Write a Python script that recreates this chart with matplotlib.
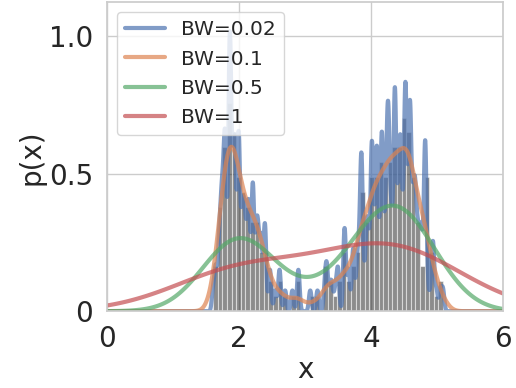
import numpy as np
import matplotlib
matplotlib.use("Agg")
import matplotlib.pyplot as plt
import seaborn as sns

# sample clusters (position, number of samples)
centers = [1.61, 1.65, 1.70, 1.735, 1.765, 1.795, 1.845, 1.865, 1.905, 1.94, 1.995, 2.02,
           2.05, 2.085, 2.125, 2.155, 2.21, 2.26, 2.29, 2.33, 2.36, 2.395, 2.47, 2.55, 2.615,
           2.70, 2.81, 2.90, 3.08, 3.19,
           3.30, 3.33, 3.38, 3.41, 3.46, 3.50, 3.60, 3.66, 3.73, 3.79, 3.82, 3.855,
           3.89, 3.93, 3.96, 4.01, 4.035, 4.06, 4.09, 4.13, 4.165, 4.21, 4.245, 4.27,
           4.31, 4.36, 4.385, 4.41, 4.445, 4.48, 4.52, 4.555, 4.59, 4.63, 4.665, 4.70,
           4.735, 4.77, 4.82, 4.86, 4.91, 4.94, 4.99, 5.05, 5.09]
counts = [1, 2, 3, 4, 4, 7, 3, 11, 5, 7, 8, 1,
          4, 4, 3, 4, 6, 3, 3, 3, 1, 4, 2, 1, 2,
          1, 1, 2, 1, 1,
          1, 2, 1, 1, 1, 2, 4, 2, 3, 2, 2, 7,
          1, 3, 3, 7, 2, 2, 7, 2, 8, 3, 6, 6,
          4, 10, 1, 4, 7, 3, 10, 3, 9, 4, 5, 3,
          3, 3, 8, 1, 1, 3, 1, 1, 1]
bandwidths = [0.02, 0.1, 0.5, 1]
n_bins = 50

samples = np.repeat(np.array(centers), np.array(counts))

sns.set_theme(style="whitegrid")
plt.rcParams['font.family'] = ['DejaVu Sans']
plt.rcParams['path.simplify'] = False

fig = plt.figure(figsize=(5.16, 3.88), dpi=100)
ax = fig.add_axes([0.207, 0.198, 0.768, 0.796])

grid = np.linspace(0, 6, 4000)
palette = sns.color_palette("deep")
for i, bw in enumerate(bandwidths):
    dens = np.exp(-0.5 * ((grid[:, None] - samples[None, :]) / bw) ** 2).sum(axis=1)
    dens /= (len(samples) * bw * np.sqrt(2 * np.pi))
    ax.plot(grid, dens, lw=3, alpha=0.7, color=palette[i], label=f"BW={bw}")

ax.hist(samples, bins=n_bins, density=True, color='k', alpha=0.5,
        edgecolor='white', linewidth=0.8)

ax.set_xlim(0, 6)
ax.set_ylim(0, 1.124)
ax.set_xticks([0, 2, 4, 6])
ax.set_xticklabels(["0", "2", "4", "6"])
ax.set_yticks([0, 0.5, 1.0])
ax.set_yticklabels(["0", "0.5", "1.0"])
ax.tick_params(labelsize=20, colors='#262626', pad=4)
ax.set_xlabel("x", fontsize=20, color='#262626', labelpad=2)
ax.set_ylabel("p(x)", fontsize=20, color='#262626', labelpad=2)
leg = ax.legend(loc="upper left", fontsize=14.5, handlelength=2.0)

fig.savefig("out.png", dpi=100)
